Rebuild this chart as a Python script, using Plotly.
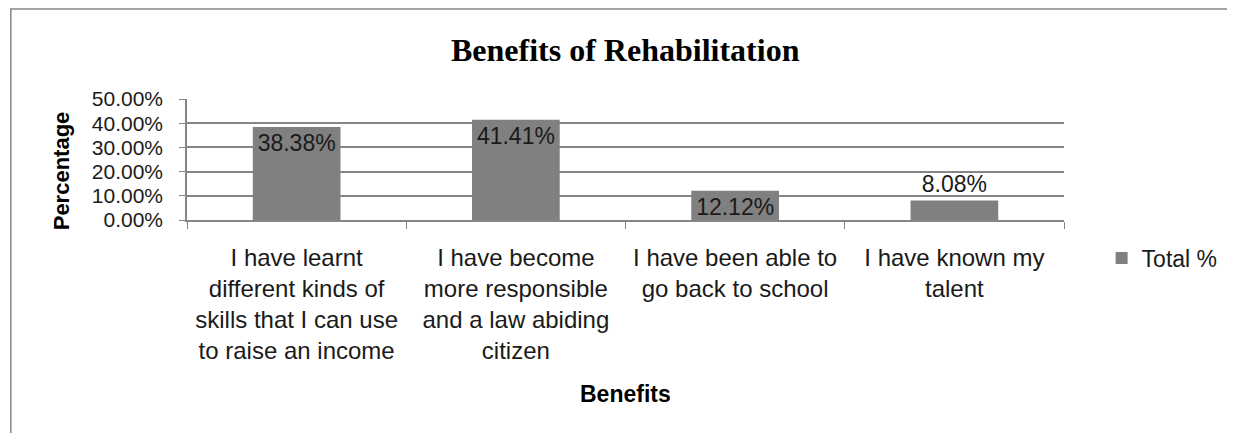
import plotly.graph_objects as go

categories = [
    "I have learnt<br>different kinds of<br>skills that I can use<br>to raise an income",
    "I have become<br>more responsible<br>and a law abiding<br>citizen",
    "I have been able to<br>go back to school",
    "I have known my<br>talent",
]
values = [0.3838, 0.4141, 0.1212, 0.0808]
labels = ["38.38%", "41.41%", "12.12%", "8.08%"]
label_positions = ["inside", "inside", "inside", "outside"]
series_name = "Total %"

SANS = "Liberation Sans, Arial, sans-serif"
OFF = 8  # page body margin
W, H = 1235 - OFF, 433 - OFF
L, R, T, B = 187 - OFF, 1073 - OFF, 99 - OFF, 220 - OFF
pw, ph = R - L, B - T

def px(x):
    return (x - OFF - L) / pw

def py(y):
    return (B - (y - OFF)) / ph

fig = go.Figure()
fig.add_trace(go.Bar(
    x=categories, y=values, name=series_name,
    marker=dict(color="#808080", line=dict(width=0)),
    text=labels, textposition=label_positions, insidetextanchor="end",
    textfont=dict(family=SANS, size=23, color="#1a1a1a"),
    constraintext="none", textangle=0, cliponaxis=False,
    showlegend=True,
))

fig.update_layout(
    width=W, height=H,
    margin=dict(l=L, r=W - R, t=T, b=H - B, pad=0),
    paper_bgcolor="white", plot_bgcolor="white",
    bargap=0.6,
    uniformtext=dict(minsize=23, mode="show"),
    showlegend=True,
    legend=dict(x=px(1111), y=py(258), xanchor="left", yanchor="middle",
                font=dict(family=SANS, size=23, color="#1a1a1a"),
                itemwidth=30, bgcolor="rgba(0,0,0,0)"),
    font=dict(family=SANS, color="#1a1a1a"),
)

fig.update_yaxes(
    range=[0, 0.5], dtick=0.1, tickformat=".2%",
    showgrid=True, gridcolor="#868686", gridwidth=1.5,
    showline=True, linecolor="#868686", linewidth=1.5,
    ticks="outside", ticklen=6, tickcolor="#868686",
    tickfont=dict(family=SANS, size=21, color="#1a1a1a"),
    ticklabelstandoff=12,
    zeroline=False,
)
fig.update_xaxes(
    showline=True, linecolor="#868686", linewidth=1.5,
    ticks="outside", ticklen=7, tickcolor="#868686", tickson="boundaries",
    tickfont=dict(family=SANS, size=24, color="#1a1a1a"),
    ticklabelstandoff=15,
    tickangle=0,
)

# Title
fig.add_annotation(text="<b>Benefits of Rehabilitation</b>", xref="paper", yref="paper",
                   x=px(630), y=py(50), xanchor="center", yanchor="middle", showarrow=False,
                   font=dict(family="Liberation Serif, Times New Roman, serif", size=32, color="#000"))
# Axis titles
fig.add_annotation(text="<b>Percentage</b>", xref="paper", yref="paper",
                   x=px(60), y=py(171), xanchor="center", yanchor="middle", showarrow=False, textangle=-90,
                   font=dict(family=SANS, size=22, color="#000"))
fig.add_annotation(text="<b>Benefits</b>", xref="paper", yref="paper",
                   x=px(630), y=py(394), xanchor="center", yanchor="middle", showarrow=False,
                   font=dict(family=SANS, size=23, color="#000"))

# Chart border
fig.add_shape(type="rect", xref="paper", yref="paper",
              x0=px(9), x1=px(1400), y0=py(600), y1=py(9),
              line=dict(color="#868686", width=1.5), fillcolor="rgba(0,0,0,0)", layer="below")

fig.write_html("out.html")
